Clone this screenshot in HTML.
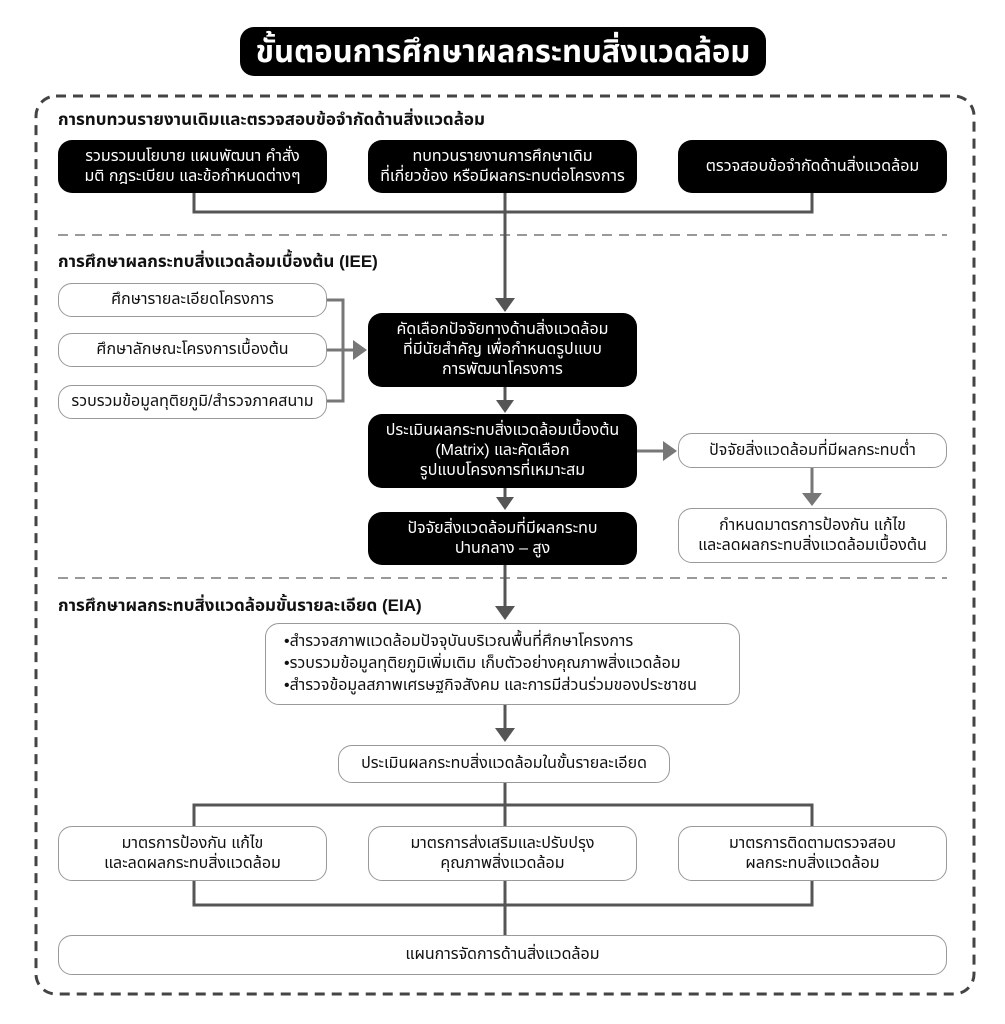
<!DOCTYPE html>
<html><head><meta charset="utf-8"><style>
body{margin:0;width:1005px;height:1024px;background:#fff;position:relative;font-family:"Liberation Sans","Noto Sans Thai","Tlwg Typo",sans-serif;overflow:hidden}
.b{position:absolute;box-sizing:border-box;display:flex;align-items:center;justify-content:center;text-align:center;border-radius:14px;font-size:16px;line-height:20px;white-space:nowrap}
.k{background:#000;color:#fff}
.w{background:#fff;color:#111;border:1.5px solid #999}
.h{position:absolute;left:58px;font-weight:bold;font-size:17px;color:#111}
svg{position:absolute;left:0;top:0}
</style></head><body>
<svg width="1005" height="1024">
<rect x="36" y="96" width="938" height="898" rx="20" fill="none" stroke="#444" stroke-width="3" stroke-dasharray="10 7"/>
<line x1="58" y1="235" x2="947" y2="235" stroke="#999" stroke-width="2" stroke-dasharray="10 7"/>
<line x1="58" y1="578" x2="947" y2="578" stroke="#999" stroke-width="2" stroke-dasharray="10 7"/>
<g stroke="#555" stroke-width="3" fill="none">
<path d="M194 193V212H812V193M505 193V212M505 212V300"/>
<path d="M505 387V402M505 488V500M505 565V606M505 705V728M505 783V805M194 826V805H812V826M505 805V826"/>
<path d="M194 881V905H812V881M505 881V935"/>
</g>
<g stroke="#777" stroke-width="3" fill="none">
<path d="M327 300H343V401H327M327 350H355M637 451H665M812 468V495"/>
</g>
<g fill="#555">
<polygon points="495,298 515,298 505,312"/>
<polygon points="496,400 514,400 505,413"/>
<polygon points="496,497 514,497 505,510"/>
<polygon points="495,606 515,606 505,620"/>
<polygon points="495,728 515,728 505,742"/>
</g>
<g fill="#777">
<polygon points="353,340 353,360 367,350"/>
<polygon points="663,441 663,461 677,451"/>
<polygon points="802,493 822,493 812,506"/>
</g>
</svg>
<div class="b k" style="left:240px;top:27px;width:526px;height:49px;font-size:31px;font-weight:bold">ขั้นตอนการศึกษาผลกระทบสิ่งแวดล้อม</div>
<div class="h" style="top:107px">การทบทวนรายงานเดิมและตรวจสอบข้อจำกัดด้านสิ่งแวดล้อม</div>
<div class="b k" style="left:58px;top:140px;width:269px;height:53px">รวมรวมนโยบาย แผนพัฒนา คำสั่ง<br>มติ กฎระเบียบ และข้อกำหนดต่างๆ</div>
<div class="b k" style="left:368px;top:140px;width:269px;height:53px">ทบทวนรายงานการศึกษาเดิม<br>ที่เกี่ยวข้อง หรือมีผลกระทบต่อโครงการ</div>
<div class="b k" style="left:678px;top:140px;width:269px;height:53px">ตรวจสอบข้อจำกัดด้านสิ่งแวดล้อม</div>
<div class="h" style="top:249px">การศึกษาผลกระทบสิ่งแวดล้อมเบื้องต้น (IEE)</div>
<div class="b w" style="left:58px;top:283px;width:269px;height:34px">ศึกษารายละเอียดโครงการ</div>
<div class="b w" style="left:58px;top:333px;width:269px;height:34px">ศึกษาลักษณะโครงการเบื้องต้น</div>
<div class="b w" style="left:58px;top:385px;width:269px;height:34px">รวบรวมข้อมูลทุติยภูมิ/สำรวจภาคสนาม</div>
<div class="b k" style="left:368px;top:313px;width:269px;height:74px">คัดเลือกปัจจัยทางด้านสิ่งแวดล้อม<br>ที่มีนัยสำคัญ เพื่อกำหนดรูปแบบ<br>การพัฒนาโครงการ</div>
<div class="b k" style="left:368px;top:414px;width:269px;height:74px">ประเมินผลกระทบสิ่งแวดล้อมเบื้องต้น<br>(Matrix) และคัดเลือก<br>รูปแบบโครงการที่เหมาะสม</div>
<div class="b w" style="left:678px;top:433px;width:269px;height:35px">ปัจจัยสิ่งแวดล้อมที่มีผลกระทบต่ำ</div>
<div class="b k" style="left:368px;top:512px;width:269px;height:53px">ปัจจัยสิ่งแวดล้อมที่มีผลกระทบ<br>ปานกลาง – สูง</div>
<div class="b w" style="left:678px;top:508px;width:269px;height:55px">กำหนดมาตรการป้องกัน แก้ไข<br>และลดผลกระทบสิ่งแวดล้อมเบื้องต้น</div>
<div class="h" style="top:593px">การศึกษาผลกระทบสิ่งแวดล้อมขั้นรายละเอียด (EIA)</div>
<div class="b w" style="left:265px;top:623px;width:475px;height:82px;text-align:left;justify-content:flex-start;padding-left:18px;line-height:22px">•สำรวจสภาพแวดล้อมปัจจุบันบริเวณพื้นที่ศึกษาโครงการ<br>•รวบรวมข้อมูลทุติยภูมิเพิ่มเติม เก็บตัวอย่างคุณภาพสิ่งแวดล้อม<br>•สำรวจข้อมูลสภาพเศรษฐกิจสังคม และการมีส่วนร่วมของประชาชน</div>
<div class="b w" style="left:338px;top:745px;width:332px;height:38px">ประเมินผลกระทบสิ่งแวดล้อมในขั้นรายละเอียด</div>
<div class="b w" style="left:58px;top:826px;width:269px;height:55px">มาตรการป้องกัน แก้ไข<br>และลดผลกระทบสิ่งแวดล้อม</div>
<div class="b w" style="left:368px;top:826px;width:269px;height:55px">มาตรการส่งเสริมและปรับปรุง<br>คุณภาพสิ่งแวดล้อม</div>
<div class="b w" style="left:678px;top:826px;width:269px;height:55px">มาตรการติดตามตรวจสอบ<br>ผลกระทบสิ่งแวดล้อม</div>
<div class="b w" style="left:58px;top:935px;width:889px;height:40px">แผนการจัดการด้านสิ่งแวดล้อม</div>
</body></html>
